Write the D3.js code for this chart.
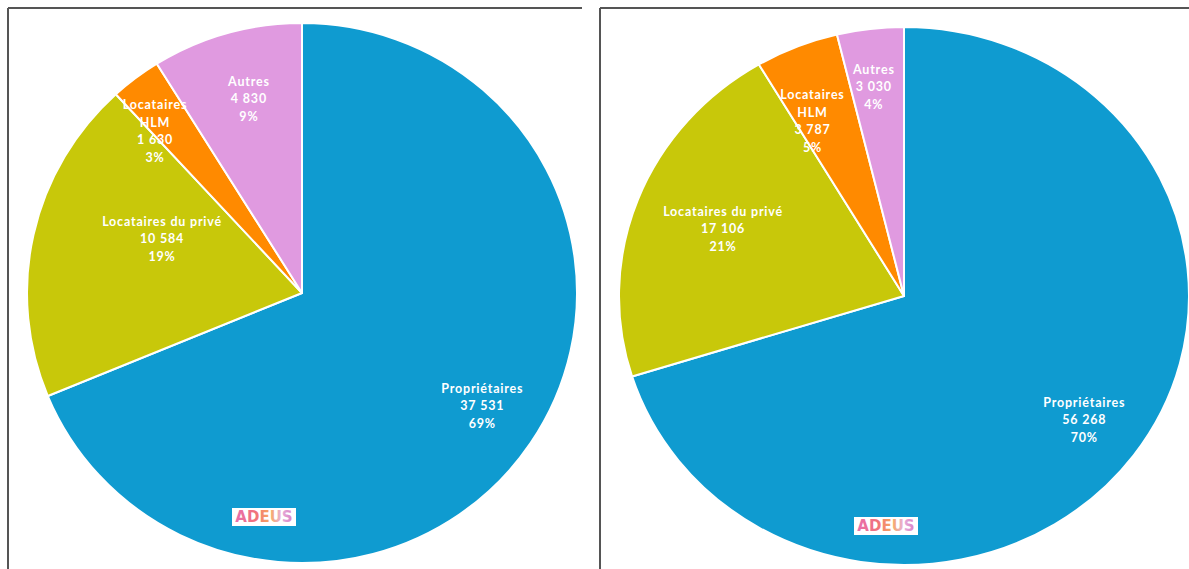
<!DOCTYPE html>
<html><head><meta charset="utf-8">
<script src="https://cdn.jsdelivr.net/npm/d3@7"></script>
<style>
html,body{margin:0;padding:0;background:#fff;}
svg{display:block;}
</style></head>
<body>
<svg id="c" width="1189" height="569"></svg>
<script>
// ---- data ----
const categories = ["Propriétaires", "Locataires du privé", "Locataires HLM", "Autres"];
const labelLines = [["Propriétaires"], ["Locataires du privé"], ["Locataires", "HLM"], ["Autres"]];
const valuesLeft = [37531, 10584, 1630, 4830];
const valuesRight = [56268, 17106, 3787, 3030];
const colors = ["#0f9bd0", "#c8c80a", "#ff8a00", "#e09ae0"];
const logoText = "ADEUS";

// ---- layout ----
const charts = [
  {values: valuesLeft, cx: 302, cy: 293, rx: 275, ry: 270,
   box: {x: 8, y: 8, w: 574},
   lab: [{f: 0.78, d: -1}, {f: 0.545, d: 8.5}, {f: 0.80, d: -4.7}, {f: 0.74, d: 0.8}],
   logo: {x: 264, y: 517}},
  {values: valuesRight, cx: 904, cy: 296, rx: 285, ry: 269,
   box: {x: 600, y: 8, w: 600},
   lab: [{f: 0.785, d: 0}, {f: 0.68, d: 0}, {f: 0.72, d: -4.4}, {f: 0.78, d: -1}],
   logo: {x: 886, y: 526}}
];

const fr = d3.formatLocale({decimal: ",", thousands: "\u202f", grouping: [3], currency: ["", " €"]});
const fmt = fr.format(",d");

const svg = d3.select("#c");
const defs = svg.append("defs");
const grad = defs.append("linearGradient").attr("id", "lg").attr("x1", "0").attr("x2", "1");
[["0", "#e86fb0"], ["0.35", "#f0707a"], ["0.6", "#f7a860"], ["0.8", "#e8b0d8"], ["1", "#d880c8"]]
  .forEach(([o, c]) => grad.append("stop").attr("offset", o).attr("stop-color", c));

charts.forEach(ch => {
  svg.append("line").attr("x1", ch.box.x).attr("x2", ch.box.x + ch.box.w)
    .attr("y1", ch.box.y).attr("y2", ch.box.y).attr("stroke", "#555").attr("stroke-width", 2);
  svg.append("line").attr("x1", ch.box.x).attr("x2", ch.box.x)
    .attr("y1", ch.box.y).attr("y2", 569).attr("stroke", "#555").attr("stroke-width", 2);

  const total = d3.sum(ch.values);
  const pie = d3.pie().sort(null).value(d => d);
  const arcs = pie(ch.values);
  const arc = d3.arc().innerRadius(0).outerRadius(ch.ry);
  const sx = ch.rx / ch.ry;

  const g = svg.append("g").attr("transform", `translate(${ch.cx},${ch.cy}) scale(${sx},1)`);
  g.selectAll("path").data(arcs).join("path")
    .attr("d", arc)
    .attr("fill", (d, i) => colors[i])
    .attr("stroke", "#fff").attr("stroke-width", 2)
    .attr("vector-effect", "non-scaling-stroke")
    .attr("stroke-linejoin", "round");

  const lg = svg.append("g").attr("transform", `translate(${ch.cx},${ch.cy})`);
  arcs.forEach((a, i) => {
    const L = ch.lab[i];
    const mid = (a.startAngle + a.endAngle) / 2 + L.d * Math.PI / 180;
    const r = L.f * ch.ry;
    const x = Math.sin(mid) * r * sx;
    const y = -Math.cos(mid) * r;
    const lines = labelLines[i].concat([fmt(ch.values[i]), Math.round(ch.values[i] / total * 100) + "%"]);
    const lh = 17.5;
    const t = lg.append("text").attr("x", x).attr("y", y - (lines.length - 1) * lh / 2)
      .attr("text-anchor", "middle").attr("dominant-baseline", "middle")
      .attr("fill", "#fff").attr("font-family", "Lato, 'Open Sans', sans-serif")
      .attr("font-weight", "bold").attr("font-size", 12.5).attr("letter-spacing", 0.8);
    lines.forEach((s, k) => t.append("tspan").attr("x", x).attr("dy", k === 0 ? 0 : lh).text(s));
  });

  const lgo = svg.append("g").attr("transform", `translate(${ch.logo.x},${ch.logo.y})`);
  lgo.append("rect").attr("x", -32).attr("y", -9).attr("width", 64).attr("height", 18).attr("fill", "#fff");
  lgo.append("text").attr("text-anchor", "middle").attr("dominant-baseline", "central")
    .attr("font-family", "'DejaVu Sans', sans-serif").attr("font-weight", "bold").attr("font-size", 15)
    .attr("fill", "url(#lg)").text(logoText);
});
</script>
</body></html>
